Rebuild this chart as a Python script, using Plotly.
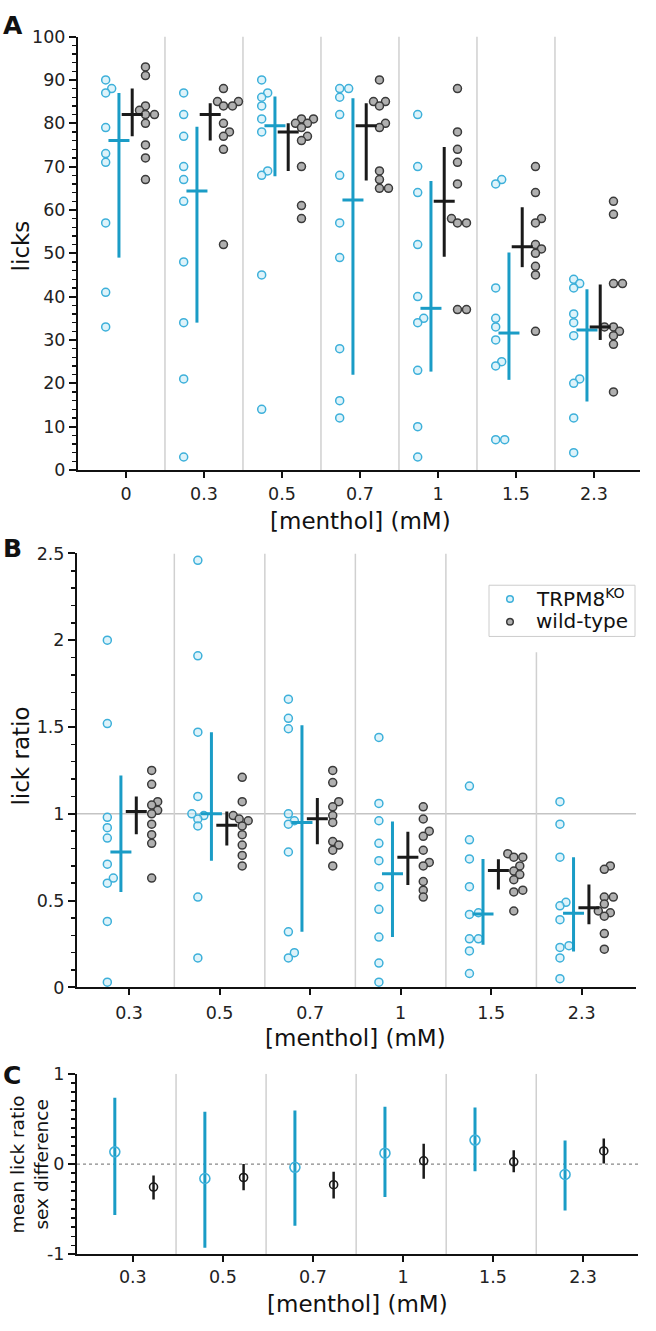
import plotly.graph_objects as go

# ---------------- data ----------------
conc_A = ["0", "0.3", "0.5", "0.7", "1", "1.5", "2.3"]

ko_licks = [
    [90, 88, 87, 79, 73, 71, 57, 41, 33],
    [87, 82, 77, 70, 67, 62, 48, 34, 21, 3],
    [90, 87, 86, 84, 81, 78, 69, 68, 45, 14],
    [88, 88, 86, 82, 68, 57, 49, 28, 16, 12],
    [82, 70, 64, 52, 40, 35, 34, 23, 10, 3],
    [67, 66, 42, 35, 33, 30, 25, 24, 7, 7],
    [44, 43, 42, 36, 34, 31, 21, 20, 12, 4],
]
ko_licks_mid = [76, 64.4, 79.4, 62.3, 37.3, 31.6, 32.3]
ko_licks_lo = [49, 34, 67.8, 22, 22.7, 20.8, 15.8]
ko_licks_hi = [87, 79.2, 86.2, 85.8, 66.7, 50.2, 41.7]

wt_licks = [
    [93, 91, 84, 83, 82, 82, 80, 75, 72, 67],
    [88, 85, 85, 84, 84, 80, 78, 77, 74, 52],
    [81, 81, 80, 80, 79, 77, 76, 70, 61, 58],
    [90, 85, 85, 84, 80, 79, 69, 67, 65, 65],
    [88, 78, 74, 71, 66, 58, 57, 57, 37, 37],
    [70, 64, 58, 57, 52, 51, 50, 47, 45, 32],
    [62, 59, 43, 43, 33, 33, 32, 31, 29, 18],
]
wt_licks_mid = [82, 82, 78, 79.4, 62, 51.5, 33]
wt_licks_lo = [77, 76, 69, 66.8, 49.2, 46.8, 30]
wt_licks_hi = [88, 84.6, 80, 84.6, 74.5, 60.6, 42.8]

conc_B = ["0.3", "0.5", "0.7", "1", "1.5", "2.3"]

ko_ratio = [
    [2.0, 1.52, 0.98, 0.92, 0.86, 0.71, 0.63, 0.60, 0.38, 0.03],
    [2.46, 1.91, 1.47, 1.10, 1.00, 0.99, 0.97, 0.93, 0.52, 0.17],
    [1.66, 1.55, 1.49, 1.00, 0.96, 0.94, 0.78, 0.32, 0.20, 0.17],
    [1.44, 1.06, 0.96, 0.83, 0.73, 0.58, 0.45, 0.29, 0.14, 0.03],
    [1.16, 0.85, 0.74, 0.58, 0.43, 0.42, 0.28, 0.28, 0.21, 0.08],
    [1.07, 0.94, 0.75, 0.49, 0.47, 0.39, 0.24, 0.23, 0.17, 0.05],
]
ko_ratio_mid = [0.78, 1.0, 0.95, 0.655, 0.423, 0.427]
ko_ratio_lo = [0.55, 0.73, 0.32, 0.29, 0.245, 0.207]
ko_ratio_hi = [1.22, 1.47, 1.51, 0.956, 0.74, 0.75]

wt_ratio = [
    [1.25, 1.17, 1.07, 1.05, 1.02, 1.0, 0.94, 0.88, 0.83, 0.63],
    [1.21, 1.07, 0.99, 0.97, 0.96, 0.93, 0.88, 0.82, 0.76, 0.70],
    [1.25, 1.18, 1.07, 1.04, 0.99, 0.95, 0.84, 0.82, 0.79, 0.70],
    [1.04, 0.97, 0.90, 0.87, 0.79, 0.72, 0.70, 0.61, 0.56, 0.52],
    [0.77, 0.75, 0.75, 0.70, 0.67, 0.65, 0.62, 0.56, 0.55, 0.44],
    [0.70, 0.68, 0.52, 0.52, 0.48, 0.44, 0.43, 0.41, 0.31, 0.22],
]
wt_ratio_mid = [1.013, 0.934, 0.972, 0.75, 0.674, 0.459]
wt_ratio_lo = [0.882, 0.818, 0.825, 0.59, 0.564, 0.364]
wt_ratio_hi = [1.10, 1.013, 1.091, 0.896, 0.738, 0.592]

ko_diff = [0.135, -0.16, -0.036, 0.12, 0.265, -0.116]
ko_diff_lo = [-0.564, -0.927, -0.684, -0.364, -0.08, -0.516]
ko_diff_hi = [0.735, 0.578, 0.593, 0.636, 0.625, 0.262]
wt_diff = [-0.255, -0.149, -0.229, 0.036, 0.025, 0.145]
wt_diff_lo = [-0.393, -0.29, -0.382, -0.164, -0.09, 0.007]
wt_diff_hi = [-0.127, 0.0, -0.084, 0.225, 0.153, 0.284]

legend_names = ["TRPM8<sup>KO</sup>", "wild-type"]

# ---------------- style ----------------
W, H = 656, 1331
FONT = "DejaVu Sans"
KO = "#1a9cc6"
KO_PT = "#3db0da"
KO_FILL = "rgba(200,235,247,0.6)"
WT = "#1a1a1a"
WT_PT = "#3a3a3a"
WT_FILL = "#b0b0b0"
SEP = "#d0d0d0"


def fx(px):
    return px / W


def fy(px):
    return 1 - px / H


def swarm(values, center, ppx, ppy, diam=6.5, step=3.0):
    """deterministic beeswarm-like horizontal spread (pixel-space collision)"""
    order = sorted(range(len(values)), key=lambda i: values[i])
    placed = []
    xs = [0.0] * len(values)
    for i in order:
        yp = values[i] * ppy
        off = 0.0
        for k in range(0, 30):
            cand = ((k + 1) // 2) * step * (1 if k % 2 else -1)
            if all((cand - a) ** 2 + (yp - b) ** 2 >= diam ** 2 for a, b in placed):
                off = cand
                break
        placed.append((off, yp))
        xs[i] = center + off / ppx
    return xs


fig = go.Figure()


def add_panel(groups, xa, ya, ppx, ppy, pt_off, bar_off):
    for (vals, mid, lo, hi, col, pcol, fill, name), po, bo in zip(groups, pt_off, bar_off):
        xs, ys = [], []
        for i, v in enumerate(vals):
            xs += swarm(v, i + po, ppx, ppy)
            ys += v
        fig.add_trace(go.Scatter(
            x=xs, y=ys, mode="markers", xaxis=xa, yaxis=ya, name=name,
            showlegend=False,
            marker=dict(symbol="circle", size=8, color=fill,
                        line=dict(color=pcol, width=1.5)),
        ))
        n = len(mid)
        fig.add_trace(go.Scatter(
            x=[i + bo for i in range(n)], y=mid, mode="markers", xaxis=xa, yaxis=ya,
            showlegend=False,
            marker=dict(symbol="line-ew", size=15, line=dict(color=col, width=3)),
            error_y=dict(type="data", symmetric=False,
                         array=[h - m for h, m in zip(hi, mid)],
                         arrayminus=[m - l for m, l in zip(mid, lo)],
                         color=col, thickness=3, width=0),
        ))


# Panel A
add_panel(
    [(ko_licks, ko_licks_mid, ko_licks_lo, ko_licks_hi, KO, KO_PT, KO_FILL, legend_names[0]),
     (wt_licks, wt_licks_mid, wt_licks_lo, wt_licks_hi, WT, WT_PT, WT_FILL, legend_names[1])],
    "x", "y", 78, 4.4, [-0.26, 0.25], [-0.09, 0.08])

# Panel B
add_panel(
    [(ko_ratio, ko_ratio_mid, ko_ratio_lo, ko_ratio_hi, KO, KO_PT, KO_FILL, legend_names[0]),
     (wt_ratio, wt_ratio_mid, wt_ratio_lo, wt_ratio_hi, WT, WT_PT, WT_FILL, legend_names[1])],
    "x2", "y2", 90.5, 175.7, [-0.24, 0.25], [-0.09, 0.08])

# Panel C
for vals, lo, hi, col, mcol, off, size, thick in [
    (ko_diff, ko_diff_lo, ko_diff_hi, KO, KO_PT, -0.2, 10, 3),
    (wt_diff, wt_diff_lo, wt_diff_hi, WT, WT, 0.23, 8, 2.5),
]:
    fig.add_trace(go.Scatter(
        x=[i + off for i in range(len(vals))], y=vals, mode="markers",
        xaxis="x3", yaxis="y3", showlegend=False,
        marker=dict(symbol="circle-open", size=size, color=mcol, line=dict(width=1.6)),
        error_y=dict(type="data", symmetric=False,
                     array=[h - v for h, v in zip(hi, vals)],
                     arrayminus=[v - l for v, l in zip(vals, lo)],
                     color=col, thickness=thick, width=0),
    ))

# ---------------- shapes ----------------
shapes = []
for i in range(len(conc_A) - 1):
    shapes.append(dict(type="line", xref="x", yref="y", x0=i + 0.5, x1=i + 0.5, y0=0, y1=100,
                       line=dict(color=SEP, width=1.5), layer="below"))
for i in range(len(conc_B) - 1):
    top = 1.93 if i == len(conc_B) - 2 else 2.5
    shapes.append(dict(type="line", xref="x2", yref="y2", x0=i + 0.5, x1=i + 0.5, y0=0, y1=top,
                       line=dict(color=SEP, width=1.5), layer="below"))
    shapes.append(dict(type="line", xref="x3", yref="y3", x0=i + 0.48, x1=i + 0.48, y0=-1, y1=1,
                       line=dict(color=SEP, width=1.5), layer="below"))
shapes.append(dict(type="line", xref="x2 domain", yref="y2", x0=0, x1=1, y0=1, y1=1,
                   line=dict(color="#c4c4c4", width=1.5), layer="below"))
shapes.append(dict(type="line", xref="x3 domain", yref="y3", x0=0, x1=1, y0=0, y1=0,
                   line=dict(color="#888888", width=1.3, dash="dot"), layer="below"))

# legend box (drawn by hand to match the compact reference legend)
shapes.append(dict(type="rect", xref="paper", yref="paper", x0=fx(489), x1=fx(635),
                   y0=fy(636), y1=fy(584), line=dict(color="#cccccc", width=1),
                   fillcolor="white", layer="above"))
for (cy, lc, fc) in [(598, KO_PT, KO_FILL), (621, WT_PT, WT_FILL)]:
    r = 3.3
    shapes.append(dict(type="circle", xref="paper", yref="paper",
                       x0=fx(510 - r), x1=fx(510 + r), y0=fy(cy + r), y1=fy(cy - r),
                       line=dict(color=lc, width=1.5), fillcolor=fc, layer="above"))

# ---------------- axes ----------------
tickfont = dict(family=FONT, size=17.5, color="#222")


def xax(domain, rng, labels, anchor, standoff):
    return dict(domain=domain, range=rng, anchor=anchor, tickmode="array",
                tickvals=list(range(len(labels))), ticktext=labels,
                showline=True, linecolor="#111", linewidth=2, ticks="outside",
                ticklen=6, tickwidth=2, tickcolor="#111", showgrid=False, zeroline=False,
                tickfont=tickfont, ticklabelstandoff=standoff, fixedrange=True)


def yax(domain, rng, tickvals, ticktext, minor_dtick, anchor):
    return dict(domain=domain, range=rng, anchor=anchor, tickmode="array",
                tickvals=tickvals, ticktext=ticktext,
                showline=True, linecolor="#111", linewidth=2, ticks="outside",
                ticklen=7, tickwidth=2, tickcolor="#111", showgrid=False, zeroline=False,
                tickfont=tickfont,
                minor=dict(ticks="outside", ticklen=4, tickwidth=1.5, tickcolor="#111",
                           tickmode="linear", dtick=minor_dtick, showgrid=False),
                fixedrange=True)


ann = []


def text(s, x, y, size, angle=0, bold=False, anchor="center"):
    ann.append(dict(text=("<b>%s</b>" % s) if bold else s, x=fx(x), y=fy(y), xref="paper",
                    yref="paper", showarrow=False, textangle=angle, xanchor=anchor,
                    yanchor="middle", font=dict(family=FONT, size=size, color="#111")))


text("A", 13, 16, 25, bold=True)
text("B", 12, 547, 25, bold=True)
text("C", 12, 1082, 25, bold=True)
text("licks", 21, 240, 23, angle=-90)
text("lick ratio", 21, 758, 23, angle=-90)
text("mean lick ratio<br>sex difference", 29, 1172, 18.5, angle=-90)
text("[menthol] (mM)", 360, 519, 23)
text("[menthol] (mM)", 355, 1044, 23)
text("[menthol] (mM)", 357, 1314, 23)
text(legend_names[0], 534, 597, 20, anchor="left")
text(legend_names[1], 534, 620, 20, anchor="left")

fig.update_layout(
    width=W, height=H, margin=dict(l=0, r=0, t=0, b=0),
    paper_bgcolor="white", plot_bgcolor="rgba(0,0,0,0)",
    font=dict(family=FONT, color="#222"),
    xaxis=xax([fx(78), fx(640)], [-0.615, 6.59], conc_A, "y", 1),
    yaxis=yax([fy(467), fy(27)], [0, 100], list(range(0, 101, 10)),
              [str(v) for v in range(0, 101, 10)], 2, "x"),
    xaxis2=xax([fx(77), fx(636)], [-0.575, 5.6], conc_B, "y2", 3),
    yaxis2=yax([fy(992.3), fy(551.7)], [0, 2.5], [0, 0.5, 1, 1.5, 2, 2.5],
               ["0", "0.5", "1", "1.5", "2", "2.5"], 0.1, "x2"),
    xaxis3=xax([fx(77), fx(638)], [-0.62, 5.61], conc_B, "y3", 0),
    yaxis3=yax([fy(1263.3), fy(1080)], [-1, 1], [-1, 0, 1], ["-1", "0", "1"], 0.1, "x3"),
    shapes=shapes, annotations=ann,
    showlegend=False,
)

fig.write_html("out.html", config={"displayModeBar": False, "staticPlot": True},
               post_script="document.body.style.margin='0';document.body.style.overflow='hidden';")
